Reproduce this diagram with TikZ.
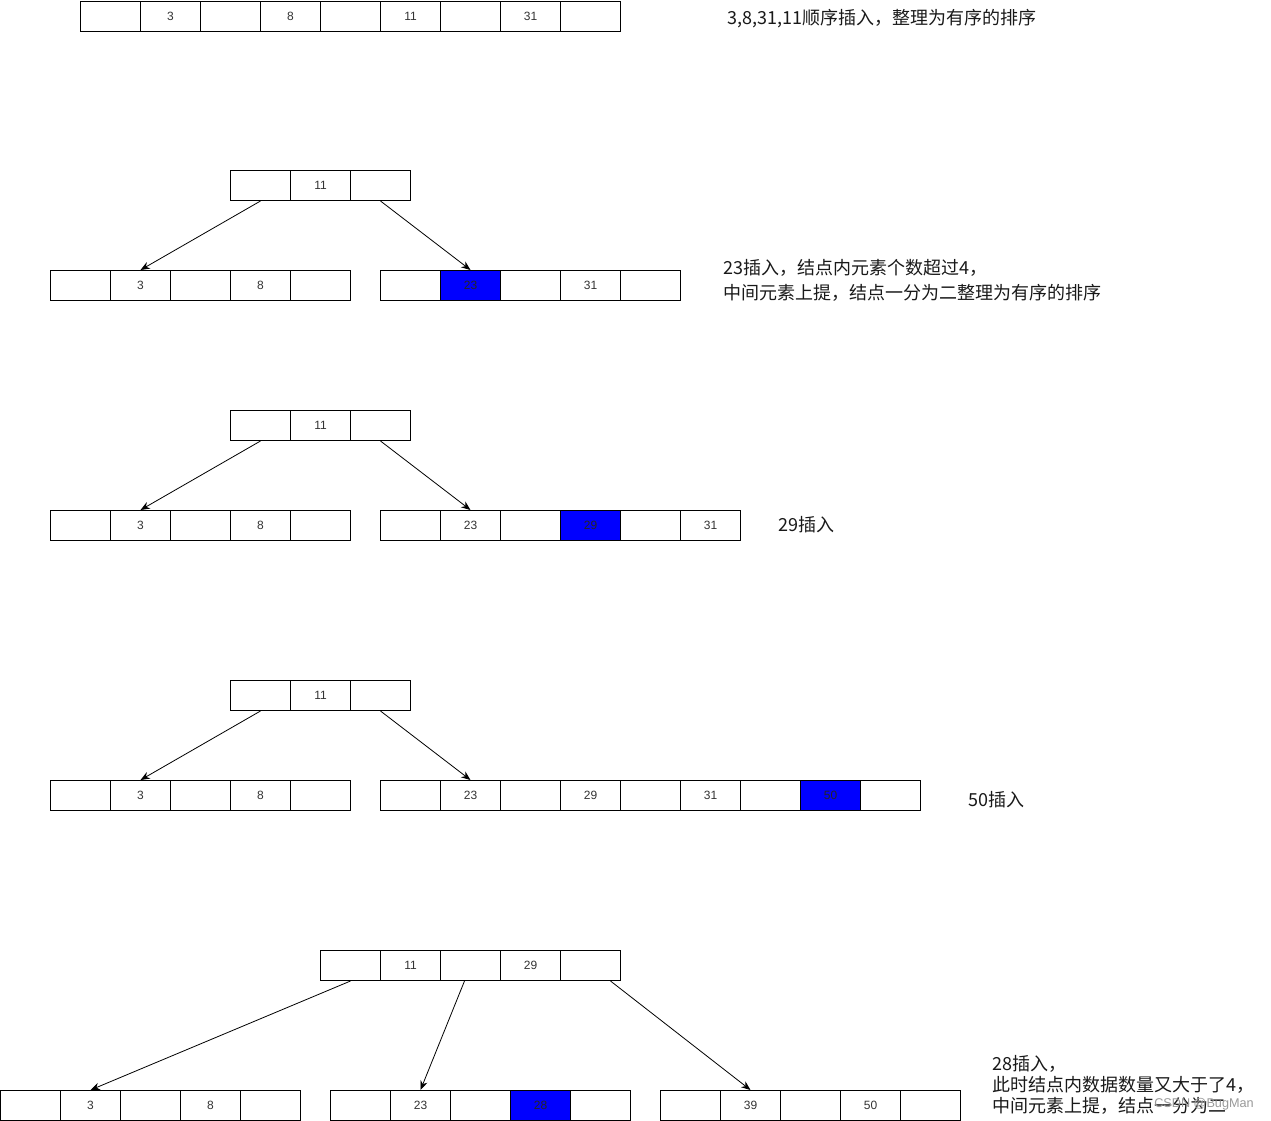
\documentclass[tikz,border=0pt]{standalone}
\usepackage{fontspec}
\setmainfont{Liberation Sans}
\newfontfamily\cjk{Noto Sans CJK SC}
\usetikzlibrary{arrows.meta}
\definecolor{lbl}{HTML}{333333}
\newcommand\noderow[4]{%
  \foreach \s/\l [count=\i] in {#4} {
    \node[cell,\s] (#1\i) at ({#2+60*(\i-1)},#3) {\l};
  }}
\begin{document}
\begin{tikzpicture}[x=0.75pt,y=-0.75pt,
  cell/.style={draw=black, line width=0.75pt, minimum width=45pt, minimum height=22.5pt,
    inner sep=0pt, font=\fontsize{9}{10}\selectfont, text=lbl, anchor=north west},
  n/.style={},
  h/.style={fill=blue, text=black!85},
  link/.style={-{Stealth[length=7pt,width=5.5pt]}, line width=0.6pt},
  note/.style={font=\cjk\fontsize{13.5}{18.75}\selectfont, text=black!90, anchor=west, align=left, inner sep=0pt},
  wm/.style={font=\fontsize{9.5}{10}\selectfont, text=black!40, anchor=west, inner sep=0pt}]
\useasboundingbox (0,0) rectangle (1271,1121);

% row 0
\noderow{a}{80}{0.5}{n/{},n/3,n/{},n/8,n/{},n/11,n/{},n/31,n/{}}
\node[note] (t0) at (727,19) {3,8,31,11顺序插入，整理为有序的排序};

% row 1
\noderow{b}{230}{170}{n/{},n/11,n/{}}
\noderow{c}{50}{270}{n/{},n/3,n/{},n/8,n/{}}
\noderow{d}{380}{270}{n/{},h/23,n/{},n/31,n/{}}
\draw[link] (b1.south) -- (c2.north);
\draw[link] (b3.south) -- (d2.north);
\node[note] (t1) at (723,280) {23插入，结点内元素个数超过4，\\中间元素上提，结点一分为二整理为有序的排序};

% row 2
\noderow{e}{230}{410}{n/{},n/11,n/{}}
\noderow{f}{50}{510}{n/{},n/3,n/{},n/8,n/{}}
\noderow{g}{380}{510}{n/{},n/23,n/{},h/29,n/{},n/31}
\draw[link] (e1.south) -- (f2.north);
\draw[link] (e3.south) -- (g2.north);
\node[note] (t2) at (778,525) {29插入};

% row 3
\noderow{p}{230}{680}{n/{},n/11,n/{}}
\noderow{q}{50}{780}{n/{},n/3,n/{},n/8,n/{}}
\noderow{r}{380}{780}{n/{},n/23,n/{},n/29,n/{},n/31,n/{},h/50,n/{}}
\draw[link] (p1.south) -- (q2.north);
\draw[link] (p3.south) -- (r2.north);
\node[note] (t3) at (968,800) {50插入};

% row 4
\noderow{k}{320}{950}{n/{},n/11,n/{},n/29,n/{}}
\noderow{l}{0}{1090}{n/{},n/3,n/{},n/8,n/{}}
\noderow{m}{330}{1090}{n/{},n/23,n/{},h/28,n/{}}
\noderow{o}{660}{1090}{n/{},n/39,n/{},n/50,n/{}}
\draw[link] (k1.south) -- (l2.north);
\draw[link] ([xshift=-4.5pt]k3.south) -- (m2.north);
\draw[link] ([xshift=15pt]k5.south) -- (o2.north);
\node[note, font=\cjk\fontsize{13.5}{15.75}\selectfont] (t4) at (992,1085) {28插入，\\此时结点内数据数量又大于了4，\\中间元素上提，结点一分为二};
\node[wm] (w) at (1154,1104) {CSDN @BugMan};
\end{tikzpicture}
\end{document}
